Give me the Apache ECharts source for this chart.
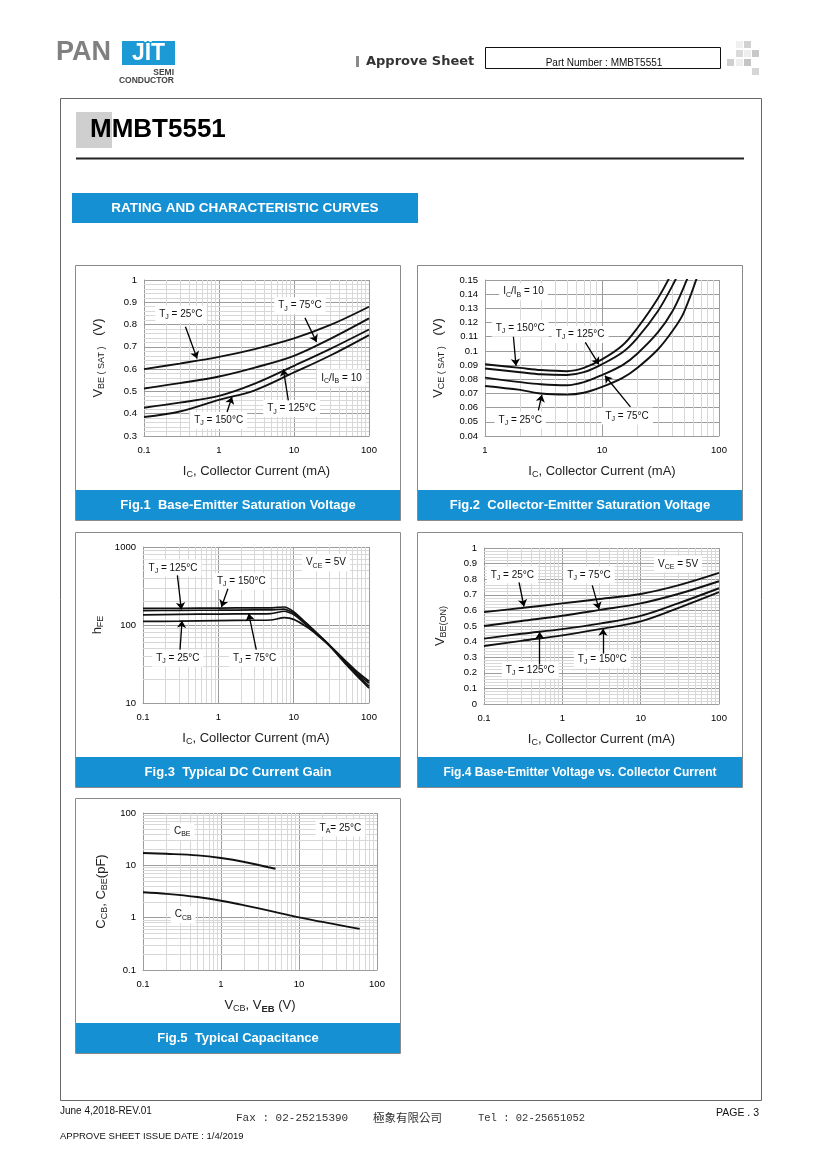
<!DOCTYPE html>
<html><head><meta charset="utf-8">
<script src="https://cdn.jsdelivr.net/npm/echarts@6/dist/echarts.min.js"></script>
<style>html,body{margin:0;padding:0;background:#fff}#c{width:820px;height:1160px}</style>
</head><body><div id="c"></div>
<script>
// ---------------- DATA ----------------
// Fig.1 VBE(SAT) vs IC
const fig1IC   = [0.1, 0.3, 1, 3, 10, 30, 100];
const fig1T25  = [0.600, 0.625, 0.655, 0.690, 0.738, 0.797, 0.880];
const fig1T75  = [0.513, 0.537, 0.567, 0.607, 0.660, 0.735, 0.828];
const fig1T125 = [0.427, 0.450, 0.480, 0.535, 0.615, 0.690, 0.778];
const fig1T150 = [0.385, 0.410, 0.462, 0.505, 0.585, 0.660, 0.753];
// Fig.2 VCE(SAT) vs IC
const fig2IC   = [1, 2, 3, 5, 7, 10, 15, 20, 30, 40, 50, 70];
const fig2T150 = [0.0906, 0.0880, 0.0865, 0.0857, 0.0880, 0.0940, 0.1040, 0.1160, 0.1370, 0.1560, 0.1750, 0.2000];
const fig2T125 = [0.0876, 0.0850, 0.0835, 0.0830, 0.0850, 0.0906, 0.0990, 0.1090, 0.1280, 0.1460, 0.1630, 0.1950];
const fig2T75  = [0.0812, 0.0780, 0.0765, 0.0758, 0.0780, 0.0830, 0.0900, 0.0980, 0.1130, 0.1280, 0.1450, 0.1750];
const fig2T25  = [0.0753, 0.0725, 0.0700, 0.0692, 0.0705, 0.0746, 0.0810, 0.0880, 0.1010, 0.1140, 0.1270, 0.1600];
// Fig.3 hFE vs IC
const fig3IC   = [0.1, 0.3, 1, 3, 5, 7.5, 10, 15, 20, 30, 50, 70, 100];
const fig3T150 = [163, 164, 165, 166, 166, 170, 148, 104, 80, 55, 34, 25, 19];
const fig3T125 = [153, 154, 155, 156, 156, 160, 142, 102, 79, 55, 33, 24, 18];
const fig3T75  = [135, 137, 138, 139, 140, 150, 136, 99, 78, 54, 32, 23, 16.5];
const fig3T25  = [111, 112, 114, 115, 116, 124, 118, 94, 76, 54, 31, 22, 15.5];
// Fig.4 VBE(ON) vs IC
const fig4IC   = [0.1, 0.3, 1, 3, 10, 30, 100];
const fig4T25  = [0.589, 0.615, 0.645, 0.673, 0.705, 0.760, 0.840];
const fig4T75  = [0.500, 0.532, 0.566, 0.603, 0.645, 0.705, 0.787];
const fig4T125 = [0.419, 0.450, 0.480, 0.515, 0.565, 0.645, 0.742];
const fig4T150 = [0.372, 0.405, 0.440, 0.480, 0.530, 0.615, 0.717];
// Fig.5 capacitance
const fig5CbeV = [0.1, 0.2, 0.5, 1, 2, 5];
const fig5Cbe  = [17.2, 16.6, 15.5, 13.8, 11.6, 8.6];
const fig5CcbV = [0.1, 0.2, 0.5, 1, 2, 5, 10, 20, 40, 60];
const fig5Ccb  = [3.05, 2.85, 2.48, 2.11, 1.72, 1.28, 1.01, 0.83, 0.68, 0.61];

// ---------------- STYLE ----------------
const FONT = '"Liberation Sans", Arial, Helvetica, sans-serif';
const BLUE = '#1591d3';
const MAJ = '#9c9c9c';
const MIN = '#d8d8d8';
const NOTE_RICH = {
  n: {fontFamily: FONT, fontSize: 10, color: '#111'},
  s: {fontFamily: FONT, fontSize: 7, color: '#111', padding: [6, 0, 0, 0]}
};
const NAME_RICH = {
  a: {fontFamily: FONT, fontSize: 13, color: '#222'},
  b: {fontFamily: FONT, fontSize: 9, color: '#222', padding: [7, 0, 0, 0]},
  bb: {fontFamily: FONT, fontSize: 9.5, fontWeight: 'bold', color: '#222', padding: [7, 0, 0, 0]}
};
const tj = t => '{n|T}{s|J}{n| = ' + t + '°C}';

const grids = [
  {left: 144, top: 280, width: 225, height: 156},
  {left: 485, top: 280, width: 234, height: 156},
  {left: 143, top: 547, width: 226, height: 156},
  {left: 484, top: 548, width: 235, height: 156},
  {left: 143, top: 813, width: 234, height: 157}
];

function logMinors(min, max) {
  const out = [];
  for (let e = Math.round(Math.log10(min)); e < Math.round(Math.log10(max)); e++) {
    const d = Math.pow(10, e);
    for (let k = 2; k <= 9; k++) out.push(+(d * k).toPrecision(3));
  }
  return out;
}
function linMinors(min, max, step, n) {
  const out = [];
  const cnt = Math.round((max - min) / step);
  for (let i = 0; i < cnt; i++) for (let k = 1; k < n; k++) out.push(+(min + step * i + step * k / n).toFixed(5));
  return out;
}
const fmt = v => String(+(+v).toPrecision(6));
const axisLabel = {fontFamily: FONT, fontSize: 9.5, color: '#000', margin: 7, formatter: fmt};
function xLog(i, min, max, name) {
  return {type: 'log', logBase: 10, gridIndex: i, min, max, splitNumber: Math.round(Math.log10(max / min)),
    axisLine: {show: true, lineStyle: {color: MAJ}}, axisTick: {show: false},
    splitLine: {show: true, lineStyle: {color: MAJ, width: 1}},
    axisLabel: Object.assign({}, axisLabel, {margin: 9}),
    name, nameLocation: 'middle', nameGap: 27, nameTextStyle: {rich: NAME_RICH, verticalAlign: 'top'}};
}
function yLin(i, min, max, interval, name, gap) {
  return {type: 'value', gridIndex: i, min, max, interval,
    axisLine: {show: true, lineStyle: {color: MAJ}}, axisTick: {show: false},
    splitLine: {show: true, lineStyle: {color: MAJ, width: 1}}, axisLabel,
    name, nameLocation: 'middle', nameGap: gap, nameRotate: 90, nameTextStyle: {rich: NAME_RICH}};
}
function yLog(i, min, max, name, gap) {
  return {type: 'log', logBase: 10, gridIndex: i, min, max, splitNumber: Math.round(Math.log10(max / min)),
    axisLine: {show: true, lineStyle: {color: MAJ}}, axisTick: {show: false},
    splitLine: {show: true, lineStyle: {color: MAJ, width: 1}}, axisLabel,
    name, nameLocation: 'middle', nameGap: gap, nameRotate: 90, nameTextStyle: {rich: NAME_RICH}};
}

const series = [];
function addGridLines(i, xs, ys) {
  series.push({type: 'line', xAxisIndex: i, yAxisIndex: i, data: [], silent: true, z: 1,
    markLine: {z: 1, silent: true, symbol: ['none', 'none'], label: {show: false}, animation: false,
      lineStyle: {color: MIN, width: 1, type: 'solid'}, emphasis: {disabled: true},
      data: xs.map(v => ({xAxis: v})).concat(ys.map(v => ({yAxis: v})))}});
}
function addCurve(i, xs, ys, w, sm) {
  series.push({type: 'line', xAxisIndex: i, yAxisIndex: i, data: xs.map((x, k) => [x, ys[k]]),
    symbol: 'none', smooth: sm, clip: true, silent: true, z: 6,
    lineStyle: {color: '#111', width: w}});
}
function addNotes(i, labels, arrows) {
  series.push({type: 'line', xAxisIndex: i, yAxisIndex: i, data: [], silent: true, z: 10,
    markPoint: {z: 10, symbol: 'rect', symbolSize: 1, silent: true, animation: false,
      itemStyle: {color: 'rgba(0,0,0,0)'},
      label: {show: true, position: 'inside', formatter: p => p.name, backgroundColor: '#fff',
        padding: [2, 4, 2, 4], color: '#111', fontFamily: FONT, fontSize: 10, rich: NOTE_RICH},
      data: labels.map(l => ({name: l[2], coord: [l[0], l[1]]}))},
    markLine: {z: 11, symbol: ['none', 'arrow'], symbolSize: 7, silent: true, animation: false, label: {show: false},
      lineStyle: {color: '#000', width: 1.3, type: 'solid'},
      data: arrows.map(a => [{coord: [a[0], a[1]]}, {coord: [a[2], a[3]]}])}
  });
}

const xName = '{a|I}{b|C}{a|, Collector Current (mA)}';
const xAxes = [
  xLog(0, 0.1, 100, xName),
  xLog(1, 1, 100, xName),
  xLog(2, 0.1, 100, xName),
  xLog(3, 0.1, 100, xName),
  xLog(4, 0.1, 100, '{a|V}{b|CB}{a|, V}{bb|EB}{a| (V)}')
];
const yAxes = [
  yLin(0, 0.3, 1, 0.1, '{a|V}{b|BE ( SAT )}{a|   (V)}', 38),
  yLin(1, 0.04, 0.15, 0.01, '{a|V}{b|CE ( SAT )}{a|   (V)}', 39),
  yLog(2, 10, 1000, '{a|h}{b|FE}', 38),
  yLin(3, 0, 1, 0.1, '{a|V}{b|BE(ON)}', 36),
  yLog(4, 0.1, 100, '{a|C}{b|CB}{a|, C}{b|BE}{a|(pF)}', 34)
];

// grid minor lines
addGridLines(0, logMinors(0.1, 100), linMinors(0.3, 1, 0.1, 5));
addGridLines(1, logMinors(1, 100), []);
addGridLines(2, logMinors(0.1, 100), logMinors(10, 1000));
addGridLines(3, logMinors(0.1, 100), linMinors(0, 1, 0.1, 5));
addGridLines(4, logMinors(0.1, 100), logMinors(0.1, 100));

// curves
[fig1T25, fig1T75, fig1T125, fig1T150].forEach(s => addCurve(0, fig1IC, s, 1.9, 0.35));
[fig2T150, fig2T125, fig2T75, fig2T25].forEach(s => addCurve(1, fig2IC, s, 1.9, 0.35));
[fig3T150, fig3T125, fig3T75, fig3T25].forEach(s => addCurve(2, fig3IC, s, 1.7, 0.2));
[fig4T25, fig4T75, fig4T125, fig4T150].forEach(s => addCurve(3, fig4IC, s, 1.9, 0.35));
addCurve(4, fig5CbeV, fig5Cbe, 1.9, 0.35);
addCurve(4, fig5CcbV, fig5Ccb, 1.9, 0.35);

// annotations
addNotes(0, [
  [0.31, 0.846, tj(25)], [12, 0.885, tj(75)], [43, 0.561, '{n|I}{s|C}{n|/I}{s|B}{n| = 10}'],
  [9.3, 0.423, tj(125)], [0.99, 0.37, tj(150)]
], [
  [0.357, 0.79, 0.51, 0.648], [14, 0.83, 20, 0.722], [8.4, 0.46, 7.2, 0.6], [1.28, 0.408, 1.49, 0.475]
]);
addNotes(1, [
  [2.13, 0.1418, '{n|I}{s|C}{n|/I}{s|B}{n| = 10}'], [2.0, 0.1159, tj(150)], [6.5, 0.1116, tj(125)],
  [2.0, 0.0511, tj(25)], [16.4, 0.0541, tj(75)]
], [
  [1.75, 0.110, 1.84, 0.0895], [7.2, 0.106, 9.4, 0.0905], [2.86, 0.0581, 3.06, 0.0690], [17.5, 0.0605, 10.6, 0.0825]
]);
addNotes(2, [
  [0.25, 537, tj(125)], [2.02, 362, tj(150)], [0.29, 37.5, tj(25)], [3.03, 37.5, tj(75)],
  [26.8, 630, '{n|V}{s|CE}{n| = 5V}']
], [
  [0.286, 433, 0.323, 158], [1.34, 291, 1.1, 170], [0.31, 48.4, 0.33, 113], [3.19, 48.4, 2.53, 140]
]);
addNotes(3, [
  [0.23, 0.828, tj(25)], [2.19, 0.828, tj(75)], [30, 0.898, '{n|V}{s|CE}{n| = 5V}'],
  [0.39, 0.217, tj(125)], [3.24, 0.287, tj(150)]
], [
  [0.28, 0.78, 0.324, 0.625], [2.41, 0.76, 2.94, 0.608], [0.514, 0.253, 0.514, 0.462], [3.3, 0.323, 3.3, 0.483]
]);
addNotes(4, [
  [0.318, 44.7, '{n|C}{s|BE}'], [34, 51.7, '{n|T}{s|A}{n|= 25°C}'], [0.327, 1.14, '{n|C}{s|CB}']
], []);

// ---------------- PAGE GRAPHICS ----------------
function txt(x, y, text, o) {
  return {type: 'text', x, y, silent: true, z: 100, style: Object.assign({text, fill: '#111', fontFamily: FONT, fontSize: 10,
    align: 'left', verticalAlign: 'middle'}, o || {})};
}
function rect(x, y, w, h, o) {
  return {type: 'rect', silent: true, z: o && o.z != null ? o.z : 0, shape: {x, y, width: w, height: h}, style: Object.assign({}, o && o.style)};
}
const panels = [
  [75.5, 265.5, 'Fig.1  Base-Emitter Saturation Voltage', 13],
  [417.5, 265.5, 'Fig.2  Collector-Emitter Saturation Voltage', 13],
  [75.5, 532.5, 'Fig.3  Typical DC Current Gain', 13],
  [417.5, 532.5, 'Fig.4 Base-Emitter Voltage vs. Collector Current', 12],
  [75.5, 798.5, 'Fig.5  Typical Capacitance', 13]
];
const graphic = [];
// header logo
graphic.push(txt(56, 53, 'PAN', {fill: '#808080', fontSize: 27, fontWeight: 'bold'}));
graphic.push(rect(122, 41, 53, 24, {style: {fill: '#1b9ad6'}, z: 50}));
graphic.push(txt(148.5, 54, 'JÏT', {fill: '#fff', fontSize: 23, fontWeight: 'bold', align: 'center'}));
graphic.push(txt(174, 72.5, 'SEMI', {fill: '#444', fontSize: 8.5, fontWeight: 'bold', align: 'right'}));
graphic.push(txt(174, 80.5, 'CONDUCTOR', {fill: '#444', fontSize: 8.5, fontWeight: 'bold', align: 'right'}));
graphic.push(rect(356, 56, 3, 11, {style: {fill: '#8a8a8a'}, z: 50}));
graphic.push(txt(366, 61.5, 'Approve Sheet', {fill: '#333', fontSize: 13, fontWeight: 'bold', fontFamily: '"DejaVu Sans", sans-serif'}));
graphic.push(rect(485.5, 47.5, 235, 21, {style: {fill: 'none', stroke: '#111', lineWidth: 1}, z: 50}));
graphic.push(txt(604, 63, 'Part Number : MMBT5551', {fontSize: 10, align: 'center'}));
[[744, 41, '#d2d2d2'], [736, 50, '#dadada'], [752, 50, '#c8c8c8'], [727, 59, '#cfcfcf'], [744, 59, '#c4c4c4'], [752, 68, '#d6d6d6'], [736, 41, '#f0f0f0'], [744, 50, '#eeeeee'], [736, 59, '#eeeeee']]
  .forEach(s => graphic.push(rect(s[0], s[1], 7, 7, {style: {fill: s[2]}, z: 50})));
// frame & title
graphic.push(rect(60.5, 98.5, 701, 1002, {style: {fill: 'none', stroke: '#666', lineWidth: 1}, z: 50}));
graphic.push(rect(76, 112, 36, 36, {style: {fill: '#cfcfcf'}, z: 40}));
graphic.push(txt(90, 130, 'MMBT5551', {fill: '#000', fontSize: 26, fontWeight: 'bold'}));
graphic.push({type: 'line', silent: true, z: 50, shape: {x1: 76, y1: 158.5, x2: 744, y2: 158.5}, style: {stroke: '#222', lineWidth: 2}});
graphic.push(rect(72, 193, 346, 30, {style: {fill: BLUE}, z: 50}));
graphic.push(txt(245, 208.5, 'RATING AND CHARACTERISTIC CURVES', {fill: '#fff', fontSize: 13.5, fontWeight: 'bold', align: 'center'}));
// panels
panels.forEach(p => {
  graphic.push(rect(p[0], p[1], 325, 255, {style: {fill: 'none', stroke: '#8a8a8a', lineWidth: 1}, z: 60}));
  graphic.push(rect(p[0] + 0.5, p[1] + 224.5, 324, 30, {style: {fill: BLUE}, z: 55}));
  graphic.push(txt(p[0] + 162.5, p[1] + 240, p[2], {fill: '#fff', fontSize: p[3], fontWeight: 'bold', align: 'center'}));
});
// footer
graphic.push(txt(60, 1111, 'June 4,2018-REV.01', {fontSize: 10}));
graphic.push(txt(236, 1118, 'Fax : 02-25215390', {fontSize: 11, fill: '#333', fontFamily: '"Liberation Mono", "DejaVu Sans Mono", monospace'}));
graphic.push(txt(373, 1118, '極象有限公司', {fontSize: 11.5, fill: '#333', fontFamily: '"Noto Sans CJK TC", sans-serif'}));
graphic.push(txt(478, 1118, 'Tel : 02-25651052', {fontSize: 10.5, fill: '#333', fontFamily: '"Liberation Mono", "DejaVu Sans Mono", monospace'}));
graphic.push(txt(716, 1113, 'PAGE . 3', {fontSize: 10.5}));
graphic.push(txt(60, 1136, 'APPROVE SHEET ISSUE DATE : 1/4/2019', {fontSize: 9.5}));

const chart = echarts.init(document.getElementById('c'), null, {renderer: 'canvas'});
chart.setOption({
  animation: false,
  backgroundColor: '#fff',
  textStyle: {fontFamily: FONT},
  grid: grids,
  xAxis: xAxes,
  yAxis: yAxes,
  series,
  graphic
});
</script>
</body></html>
